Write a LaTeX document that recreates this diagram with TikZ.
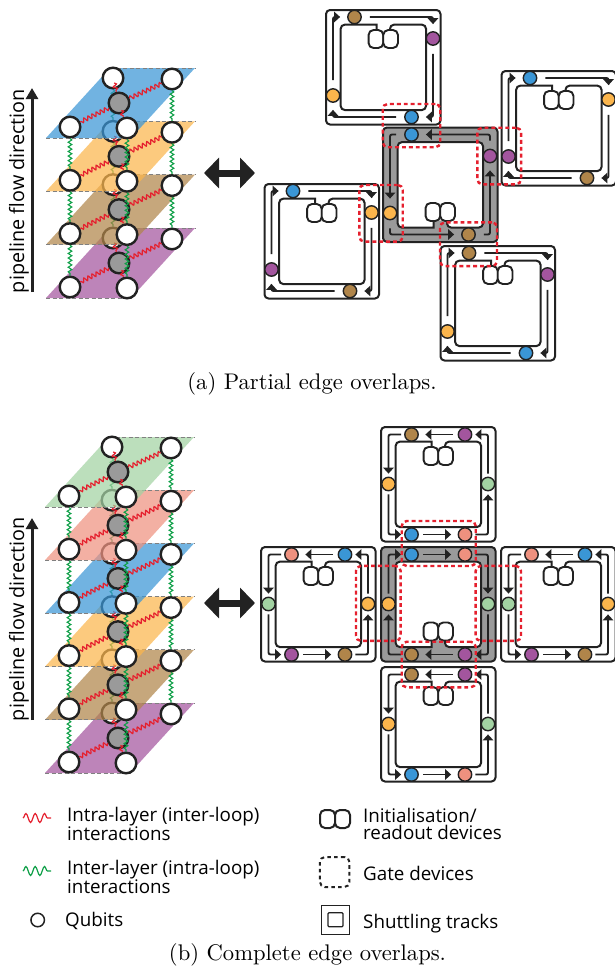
\documentclass[tikz,border=0pt]{standalone}
\usepackage{fontspec}
\newfontfamily\labelfont{Open Sans}
\newfontfamily\capfont{lmroman10-regular.otf}
\usetikzlibrary{arrows.meta,decorations.pathmorphing,calc}
\pgfdeclarelayer{U1}\pgfdeclarelayer{O1}\pgfdeclarelayer{U2}\pgfdeclarelayer{O2}
\pgfdeclarelayer{U3}\pgfdeclarelayer{O3}\pgfdeclarelayer{U4}\pgfdeclarelayer{O4}
\pgfdeclarelayer{U5}\pgfdeclarelayer{O5}\pgfdeclarelayer{U6}\pgfdeclarelayer{O6}
\pgfsetlayers{U1,O1,U2,O2,U3,O3,U4,O4,U5,O5,U6,O6,main}
\definecolor{ink}{HTML}{222222}
\definecolor{qblue}{HTML}{3A96D6}
\definecolor{qorange}{HTML}{FBB54C}
\definecolor{qbrown}{HTML}{B0854A}
\definecolor{qpurple}{HTML}{A3559E}
\definecolor{qgreen}{HTML}{A2D2A2}
\definecolor{qsalmon}{HTML}{EE917F}
\definecolor{ringgrey}{HTML}{9A9A9A}
\definecolor{gatered}{HTML}{E5202E}
\definecolor{wavegreen}{HTML}{0E9F47}
\tikzset{
  layeredge/.style={draw=gray,line width=.9pt,dash pattern=on 4pt off 2.5pt},
  sq/.style={circle,draw=ink,fill=white,line width=2.4pt,minimum size=20.6pt,inner sep=0pt},
  rw/.style={draw=gatered,line width=1.2pt,decorate,decoration={snake,amplitude=2pt,segment length=4.6pt}},
  gw/.style={draw=wavegreen,line width=1.1pt,decorate,decoration={snake,amplitude=1.8pt,segment length=4.6pt}},
  loopframe/.style={draw=ink,line width=2pt,rounded corners=4pt},
  loopinner/.style={draw=ink,line width=2pt},
  dev/.style={rectangle,draw=ink,fill=white,line width=1.9pt,rounded corners=5pt,minimum width=14.7pt,minimum height=18pt,inner sep=0pt},
  qb/.style={circle,draw=ink,line width=1.4pt,minimum size=13.4pt,inner sep=0pt},
  trk/.style={draw=ink,line width=1.9pt,rounded corners=2pt,-{Triangle[width=10.5pt,length=6pt]}},
  trka/.style={trk,shorten <=8pt,shorten >=7pt},
  trkb/.style={trk,shorten <=3pt,shorten >=3pt},
  trkc/.style={trk,shorten <=4.5pt,shorten >=6.5pt},
  gatebox/.style={rectangle,draw=gatered,line width=2.4pt,dash pattern=on 3.9pt off 3pt,rounded corners=5pt,inner sep=0pt},
  lbl/.style={font=\labelfont\fontsize{18.8}{17.5}\selectfont,align=left,inner sep=0pt},
  captext/.style={font=\capfont\fontsize{22.6}{26}\selectfont,inner sep=0pt},
  flowtext/.style={font=\labelfont\fontsize{19.8}{22}\selectfont,rotate=90,inner sep=0pt},
  bigarrow/.style={draw=ink,line width=3pt,-{Triangle[width=12pt,length=11pt]}},
  dblarrow/.style={draw=ink,line width=7pt,{Triangle[width=30pt,length=15pt]}-{Triangle[width=30pt,length=15pt]}},
}
\newcommand{\stacklevel}[5]{%
  \begin{pgfonlayer}{O#2}
  \begin{scope}[shift={(#3,#4)}]
    \fill[#5,opacity=.72] (110,68) -- (195,68) -- (131,138) -- (46,138) -- cycle;
    \draw[layeredge] (110,68) -- (195,68);
    \draw[layeredge] (46,138) -- (131,138);
    \node[sq] (#1bl) at (113,78) {};
    \node[sq] (#1br) at (172,79) {};
    \node[sq] (#1fl) at (70,127) {};
    \node[sq] (#1fr) at (127,128) {};
    \node[sq,fill=ringgrey] (#1c) at (119,103) {};
  \end{scope}
  \draw[rw] (#1c) -- (#1fl);
  \draw[rw] (#1c) -- (#1br);
  \draw[rw] ($(#1bl)!.2!(#1c)$) -- ($(#1bl)!.55!(#1c)$);
  \draw[rw] ($(#1c)!.3!(#1fr)$) -- ($(#1c)!.55!(#1fr)$);
  \end{pgfonlayer}}
\newcommand{\stacklink}[3]{%
  \begin{pgfonlayer}{O#3}
  \draw[gw] (#1fl) -- (#2fl);
  \draw[gw] (#1br) -- (#2br);
  \draw[gw] (#1fr) -- (#2fr);
  \end{pgfonlayer}
  \begin{pgfonlayer}{U#3}
  \draw[gw] (#1bl) -- (#2bl);
  \end{pgfonlayer}}
% frame with the devices at the top
\newcommand{\frameTop}[4]{%
  \begin{scope}[shift={(#2,#3)}]
    \filldraw[loopframe,fill=#4] (0,0) rectangle (114.5,114.5);
    \filldraw[loopinner,fill=white] (50.5,21) -- (50.5,14.7) [rounded corners=4pt] -- (14.7,14.7) -- (14.7,100) -- (100,100) -- (100,14.7) -- (64,14.7) [sharp corners] -- (64,21);
    \node[dev] (#1da) at (49.9,29) {};
    \node[dev] (#1db) at (64.6,29) {};
  \end{scope}}
% frame with the devices at the bottom
\newcommand{\frameBot}[4]{%
  \begin{scope}[shift={(#2,#3)}]
    \filldraw[loopframe,fill=#4] (0,0) rectangle (114.5,114.5);
    \filldraw[loopinner,fill=white] (50.5,93) -- (50.5,100) [rounded corners=4pt] -- (14.7,100) -- (14.7,14.7) -- (100,14.7) -- (100,100) -- (64,100) [sharp corners] -- (64,93);
    \node[dev] (#1da) at (49.9,84.5) {};
    \node[dev] (#1db) at (64.6,84.5) {};
  \end{scope}}
\newcommand{\quadsites}[7]{%
  \begin{scope}[shift={(#2,#3)}]
    \node[qb,fill=#4] (#1T) at (28.5,7) {};
    \node[qb,fill=#5] (#1R) at (107,28.5) {};
    \node[qb,fill=#6] (#1B) at (85.5,107) {};
    \node[qb,fill=#7] (#1L) at (7,85.5) {};
  \end{scope}}
\newcommand{\quadCW}[1]{%
  \draw[trka] (#1T) -| (#1R);
  \draw[trka] (#1R) |- (#1B);
  \draw[trka] (#1B) -| (#1L);
  \draw[trka] (#1L) |- (#1T);}
\newcommand{\quadCCW}[1]{%
  \draw[trka] (#1T) -| (#1L);
  \draw[trka] (#1L) |- (#1B);
  \draw[trka] (#1B) -| (#1R);
  \draw[trka] (#1R) |- (#1T);}
\newcommand{\hexsites}[3]{%
  \begin{scope}[shift={(#2,#3)}]
    \node[qb,fill=\hTL] (#1TL) at (30.5,7.5) {};
    \node[qb,fill=\hTR] (#1TR) at (84,7.5) {};
    \node[qb,fill=\hR] (#1R) at (107,57) {};
    \node[qb,fill=\hBR] (#1BR) at (84,107.5) {};
    \node[qb,fill=\hBL] (#1BL) at (30.5,107.5) {};
    \node[qb,fill=\hL] (#1L) at (7.5,57) {};
  \end{scope}}
\newcommand{\hexCCW}[1]{%
  \draw[trkc] (#1TR) -- (#1TL);
  \draw[trkb] (#1TL) -| (#1L);
  \draw[trkb] (#1L) |- (#1BL);
  \draw[trkc] (#1BL) -- (#1BR);
  \draw[trkb] (#1BR) -| (#1R);
  \draw[trkb] (#1R) |- (#1TR);}
\newcommand{\hexCW}[1]{%
  \draw[trkc] (#1TL) -- (#1TR);
  \draw[trkb] (#1TR) -| (#1R);
  \draw[trkb] (#1R) |- (#1BR);
  \draw[trkc] (#1BR) -- (#1BL);
  \draw[trkb] (#1BL) -| (#1L);
  \draw[trkb] (#1L) |- (#1TL);}
\newcommand{\hcolors}[6]{\def\hTL{#1}\def\hTR{#2}\def\hR{#3}\def\hBR{#4}\def\hBL{#5}\def\hL{#6}}
\begin{document}
\begin{tikzpicture}[x=1pt,y=-1pt]
\useasboundingbox (0,0) rectangle (614,969);
% stack (a)
\stacklevel{aD}{1}{0}{160}{qpurple}
\stacklevel{aC}{2}{0}{106.6}{qbrown}
\stacklevel{aB}{3}{0}{53.3}{qorange}
\stacklevel{aA}{4}{0}{0}{qblue}
\stacklink{aC}{aD}{2}
\stacklink{aB}{aC}{3}
\stacklink{aA}{aB}{4}
\coordinate (fa1) at (32,292);
\coordinate (fa2) at (32,88);
\draw[bigarrow] (fa1) -- (fa2);
\node[flowtext] (fatext) at (19,191) {pipeline flow direction};
\coordinate (da1) at (204,173);
\coordinate (da2) at (255,173);
\draw[dblarrow] (da1) -- (da2);
% modules (a)
\frameTop{mA}{326}{10}{white}
\quadsites{mA}{326}{10}{qbrown}{qpurple}{qblue}{qorange}
\quadCW{mA}
\frameTop{mR}{501.5}{71}{white}
\quadsites{mR}{501.5}{71}{qblue}{qorange}{qbrown}{qpurple}
\quadCW{mR}
\frameTop{mL}{264.5}{184}{white}
\quadsites{mL}{264.5}{184}{qblue}{qorange}{qbrown}{qpurple}
\quadCW{mL}
\frameTop{mB}{440.5}{246}{white}
\quadsites{mB}{440.5}{246}{qbrown}{qpurple}{qblue}{qorange}
\quadCW{mB}
\frameBot{mC}{383}{127.5}{ringgrey}
\quadsites{mC}{383}{127.5}{qblue}{qpurple}{qbrown}{qorange}
\quadCCW{mC}
\node[gatebox,minimum width=57.5pt,minimum height=43.3pt] (ga1) at (411.5,125.6) {};
\node[gatebox,minimum width=43.7pt,minimum height=56.6pt] (ga2) at (499.2,156) {};
\node[gatebox,minimum width=43.4pt,minimum height=56.7pt] (ga3) at (381,213.3) {};
\node[gatebox,minimum width=57pt,minimum height=43.7pt] (ga4) at (468.5,244.2) {};
\node[captext] (capa) at (312,384) {(a) Partial edge overlaps.};
% stack (b)
\stacklevel{bF}{1}{-1}{635}{qpurple}
\stacklevel{bE}{2}{-1}{581.8}{qbrown}
\stacklevel{bD}{3}{-1}{528.6}{qorange}
\stacklevel{bC}{4}{-1}{475.4}{qblue}
\stacklevel{bB}{5}{-1}{422.2}{qsalmon}
\stacklevel{bA}{6}{-1}{369}{qgreen}
\stacklink{bE}{bF}{2}
\stacklink{bD}{bE}{3}
\stacklink{bC}{bD}{4}
\stacklink{bB}{bC}{5}
\stacklink{bA}{bB}{6}
\coordinate (fb1) at (32,720);
\coordinate (fb2) at (32,518);
\draw[bigarrow] (fb1) -- (fb2);
\node[flowtext] (fbtext) at (19,619) {pipeline flow direction};
\coordinate (db1) at (204,603);
\coordinate (db2) at (255,603);
\draw[dblarrow] (db1) -- (db2);
% modules (b)
\frameTop{nT}{381}{427}{white}
\hcolors{qbrown}{qpurple}{qgreen}{qsalmon}{qblue}{qorange}
\hexsites{nT}{381}{427}
\hexCCW{nT}
\frameTop{nB}{381}{667}{white}
\hexsites{nB}{381}{667}
\hexCCW{nB}
\frameTop{nL}{261}{547}{white}
\hcolors{qsalmon}{qblue}{qorange}{qbrown}{qpurple}{qgreen}
\hexsites{nL}{261}{547}
\hexCCW{nL}
\frameTop{nR}{501}{547}{white}
\hexsites{nR}{501}{547}
\hexCCW{nR}
\frameBot{nC}{381}{547}{ringgrey}
\hcolors{qblue}{qsalmon}{qgreen}{qpurple}{qbrown}{qorange}
\hexsites{nC}{381}{547}
\hexCW{nC}
\node[gatebox,minimum width=74pt,minimum height=45pt] (gb1) at (438.7,543.5) {};
\node[gatebox,minimum width=74pt,minimum height=45.6pt] (gb2) at (438.7,664.5) {};
\node[gatebox,minimum width=44.7pt,minimum height=75pt] (gb3) at (378.3,603.4) {};
\node[gatebox,minimum width=45.3pt,minimum height=75pt] (gb4) at (498.3,603.4) {};
% legend
\coordinate (lr1) at (23,818);
\coordinate (lr2) at (51,818);
\draw[draw=gatered,line width=1.2pt,decorate,decoration={snake,amplitude=4.5pt,segment length=9.3pt}] (lr1) -- (lr2);
\node[lbl,anchor=west] (lt1) at (67,824) {Intra-layer (inter-loop)\\interactions};
\coordinate (lg1) at (23,871);
\coordinate (lg2) at (51,871);
\draw[draw=wavegreen,line width=1.2pt,decorate,decoration={snake,amplitude=4.5pt,segment length=9.3pt}] (lg1) -- (lg2);
\node[lbl,anchor=west] (lt2) at (67,877) {Inter-layer (intra-loop)\\interactions};
\node[circle,draw=ink,line width=1.5pt,minimum size=13.5pt,inner sep=0pt] (lq) at (37.7,920) {};
\node[lbl,anchor=west] (lt3) at (65,921) {Qubits};
\node[dev,minimum width=15pt,minimum height=18pt,line width=2pt] (ld1) at (327.5,819) {};
\node[dev,minimum width=15pt,minimum height=18pt,line width=2pt] (ld2) at (342.5,819) {};
\node[lbl,anchor=west] (lt4) at (363,824) {Initialisation/\\readout devices};
\node[rectangle,draw=ink,line width=2pt,dash pattern=on 3.6pt off 3.2pt,rounded corners=5pt,minimum width=29.5pt,minimum height=30pt,inner sep=0pt] (lgate) at (334.7,872) {};
\node[lbl,anchor=west] (lt5) at (363,873) {Gate devices};
\node[rectangle,draw=ink,line width=1.3pt,minimum width=27.6pt,minimum height=28.6pt,inner sep=0pt] (ls1) at (335.5,920) {};
\node[rectangle,draw=ink,line width=1.3pt,rounded corners=1pt,minimum width=15pt,minimum height=14pt,inner sep=0pt] (ls2) at (335.5,919.7) {};
\node[lbl,anchor=west] (lt6) at (363,923.5) {Shuttling tracks};
\node[captext] (capb) at (307.5,955) {(b) Complete edge overlaps.};
\end{tikzpicture}
\end{document}
